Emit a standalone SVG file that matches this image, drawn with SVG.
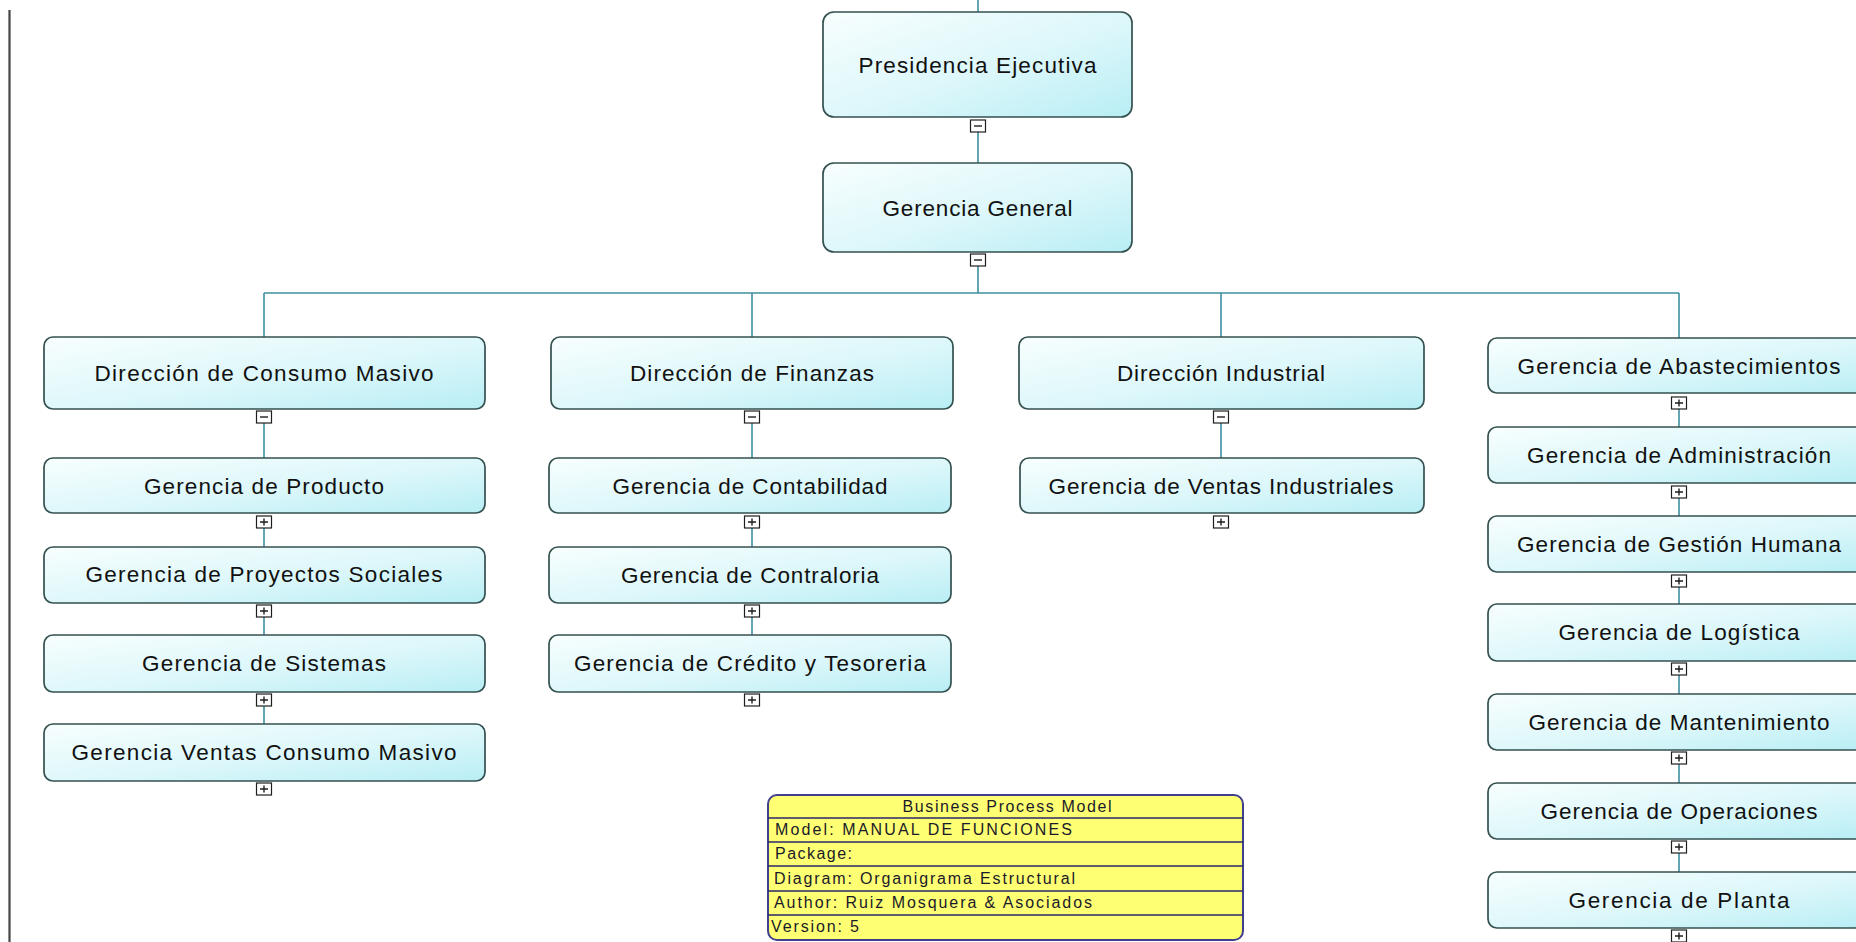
<svg xmlns="http://www.w3.org/2000/svg" xmlns:xlink="http://www.w3.org/1999/xlink" width="1856" height="942" viewBox="0 0 1856 942">
  <defs>
    <linearGradient id="boxFill" x1="0" y1="0" x2="1" y2="1">
      <stop offset="0" stop-color="#f8fefe"/>
      <stop offset="0.55" stop-color="#dcf7fa"/>
      <stop offset="1" stop-color="#b8eef5"/>
    </linearGradient>
    <!-- expand / collapse toggles, anchored at top-centre -->
    <g id="minus">
      <rect x="-7.5" y="0" width="15" height="12" fill="#fff" stroke="#1e1e1e" stroke-width="1.2"/>
      <path d="M-4 6H4" stroke="#1e1e1e" stroke-width="1.4"/>
    </g>
    <g id="plus">
      <rect x="-7.5" y="0" width="15" height="12" fill="#fff" stroke="#1e1e1e" stroke-width="1.2"/>
      <path d="M-4 6H4M0 2.5V9.5" stroke="#1e1e1e" stroke-width="1.4"/>
    </g>
  </defs>
  <style>
    .box { fill: url(#boxFill); stroke: #34504f; stroke-width: 1.7; }
    .lbl { font-family: "Liberation Sans", Arial, sans-serif; font-size: 22.5px; fill: #111; text-anchor: middle; }
    .conn { fill: none; stroke: #3d8fa0; stroke-width: 1.6; }
    .legend-frame { fill: #ffff73; stroke: #40408f; stroke-width: 2; }
    .legend-row { stroke: #2a2a6a; stroke-width: 1.5; }
    .legend-txt { font-family: "Liberation Sans", Arial, sans-serif; font-size: 16px; fill: #1a1a2a; }
  </style>

  <rect width="1856" height="942" fill="#ffffff"/>
  <!-- page margin rule -->
  <path d="M9.5 10V942" stroke="#444" stroke-width="2.2"/>

  <g id="connectors" class="conn">
    <path d="M978 0V12"/>
    <path d="M978 132V163"/>
    <path d="M978 266V293"/>
    <path d="M264 293H1679"/>
    <path d="M264 293V337M752 293V337M1221 293V337M1679 293V338"/>
    <path d="M264 423V458M264 528V547M264 617V635M264 706V724"/>
    <path d="M752 423V458M752 528V547M752 617V635"/>
    <path d="M1221 423V458"/>
    <path d="M1679 409V427M1679 498V516M1679 587V604M1679 675V694M1679 764V783M1679 853V872"/>
  </g>

  <g id="presidencia-ejecutiva">
    <rect class="box" x="823" y="12" width="309" height="105" rx="11"/>
    <text class="lbl" x="977.5" y="73" textLength="238">Presidencia Ejecutiva</text>
    <use xlink:href="#minus" x="978" y="120"/>
  </g>
  <g id="gerencia-general">
    <rect class="box" x="823" y="163" width="309" height="89" rx="11"/>
    <text class="lbl" x="977.5" y="216" textLength="190">Gerencia General</text>
    <use xlink:href="#minus" x="978" y="254"/>
  </g>

  <!-- Consumo Masivo branch -->
  <g id="direccion-consumo-masivo">
    <rect class="box" x="44" y="337" width="441" height="72" rx="9"/>
    <text class="lbl" x="264" y="381" textLength="339">Dirección de Consumo Masivo</text>
    <use xlink:href="#minus" x="264" y="411"/>
  </g>
  <g id="gerencia-producto">
    <rect class="box" x="44" y="458" width="441" height="55" rx="9"/>
    <text class="lbl" x="264" y="494" textLength="240">Gerencia de Producto</text>
    <use xlink:href="#plus" x="264" y="516"/>
  </g>
  <g id="gerencia-proyectos-sociales">
    <rect class="box" x="44" y="547" width="441" height="56" rx="9"/>
    <text class="lbl" x="264" y="582" textLength="357">Gerencia de Proyectos Sociales</text>
    <use xlink:href="#plus" x="264" y="605"/>
  </g>
  <g id="gerencia-sistemas">
    <rect class="box" x="44" y="635" width="441" height="57" rx="9"/>
    <text class="lbl" x="264" y="671" textLength="244">Gerencia de Sistemas</text>
    <use xlink:href="#plus" x="264" y="694"/>
  </g>
  <g id="gerencia-ventas-consumo-masivo">
    <rect class="box" x="44" y="724" width="441" height="57" rx="9"/>
    <text class="lbl" x="264" y="760" textLength="385">Gerencia Ventas Consumo Masivo</text>
    <use xlink:href="#plus" x="264" y="783"/>
  </g>

  <!-- Finanzas branch -->
  <g id="direccion-finanzas">
    <rect class="box" x="551" y="337" width="402" height="72" rx="9"/>
    <text class="lbl" x="752" y="381" textLength="244">Dirección de Finanzas</text>
    <use xlink:href="#minus" x="752" y="411"/>
  </g>
  <g id="gerencia-contabilidad">
    <rect class="box" x="549" y="458" width="402" height="55" rx="9"/>
    <text class="lbl" x="750" y="494" textLength="275">Gerencia de Contabilidad</text>
    <use xlink:href="#plus" x="752" y="516"/>
  </g>
  <g id="gerencia-contraloria">
    <rect class="box" x="549" y="547" width="402" height="56" rx="9"/>
    <text class="lbl" x="750" y="583" textLength="258">Gerencia de Contraloria</text>
    <use xlink:href="#plus" x="752" y="605"/>
  </g>
  <g id="gerencia-credito-tesoreria">
    <rect class="box" x="549" y="635" width="402" height="57" rx="9"/>
    <text class="lbl" x="750" y="671" textLength="352">Gerencia de Crédito y Tesoreria</text>
    <use xlink:href="#plus" x="752" y="694"/>
  </g>

  <!-- Industrial branch -->
  <g id="direccion-industrial">
    <rect class="box" x="1019" y="337" width="405" height="72" rx="9"/>
    <text class="lbl" x="1221" y="381" textLength="208">Dirección Industrial</text>
    <use xlink:href="#minus" x="1221" y="411"/>
  </g>
  <g id="gerencia-ventas-industriales">
    <rect class="box" x="1020" y="458" width="404" height="55" rx="9"/>
    <text class="lbl" x="1221" y="494" textLength="345">Gerencia de Ventas Industriales</text>
    <use xlink:href="#plus" x="1221" y="516"/>
  </g>

  <!-- support management column -->
  <g id="gerencia-abastecimientos">
    <rect class="box" x="1488" y="338" width="380" height="55" rx="9"/>
    <text class="lbl" x="1679" y="374" textLength="323">Gerencia de Abastecimientos</text>
    <use xlink:href="#plus" x="1679" y="397"/>
  </g>
  <g id="gerencia-administracion">
    <rect class="box" x="1488" y="427" width="380" height="56" rx="9"/>
    <text class="lbl" x="1679" y="463" textLength="304">Gerencia de Administración</text>
    <use xlink:href="#plus" x="1679" y="486"/>
  </g>
  <g id="gerencia-gestion-humana">
    <rect class="box" x="1488" y="516" width="380" height="56" rx="9"/>
    <text class="lbl" x="1679" y="552" textLength="324">Gerencia de Gestión Humana</text>
    <use xlink:href="#plus" x="1679" y="575"/>
  </g>
  <g id="gerencia-logistica">
    <rect class="box" x="1488" y="604" width="380" height="57" rx="9"/>
    <text class="lbl" x="1679" y="640" textLength="241">Gerencia de Logística</text>
    <use xlink:href="#plus" x="1679" y="663"/>
  </g>
  <g id="gerencia-mantenimiento">
    <rect class="box" x="1488" y="694" width="380" height="56" rx="9"/>
    <text class="lbl" x="1679" y="730" textLength="301">Gerencia de Mantenimiento</text>
    <use xlink:href="#plus" x="1679" y="752"/>
  </g>
  <g id="gerencia-operaciones">
    <rect class="box" x="1488" y="783" width="380" height="56" rx="9"/>
    <text class="lbl" x="1679" y="819" textLength="277">Gerencia de Operaciones</text>
    <use xlink:href="#plus" x="1679" y="841"/>
  </g>
  <g id="gerencia-planta">
    <rect class="box" x="1488" y="872" width="380" height="56" rx="9"/>
    <text class="lbl" x="1679" y="908" textLength="221">Gerencia de Planta</text>
    <use xlink:href="#plus" x="1679" y="930"/>
  </g>

  <!-- model information block -->
  <g id="model-info">
    <rect class="legend-frame" x="768" y="795" width="475" height="145" rx="9"/>
    <path class="legend-row" d="M768 818H1243M768 842H1243M768 866H1243M768 891H1243M768 915H1243"/>
    <text class="legend-txt" x="1007" y="812" text-anchor="middle" textLength="209">Business Process Model</text>
    <text class="legend-txt" x="775" y="835" textLength="297">Model: MANUAL DE FUNCIONES</text>
    <text class="legend-txt" x="775" y="859" textLength="77">Package:</text>
    <text class="legend-txt" x="774" y="883.5" textLength="301">Diagram: Organigrama Estructural</text>
    <text class="legend-txt" x="774" y="907.5" textLength="318">Author: Ruiz Mosquera &amp; Asociados</text>
    <text class="legend-txt" x="771" y="932" textLength="88">Version: 5</text>
  </g>
</svg>
